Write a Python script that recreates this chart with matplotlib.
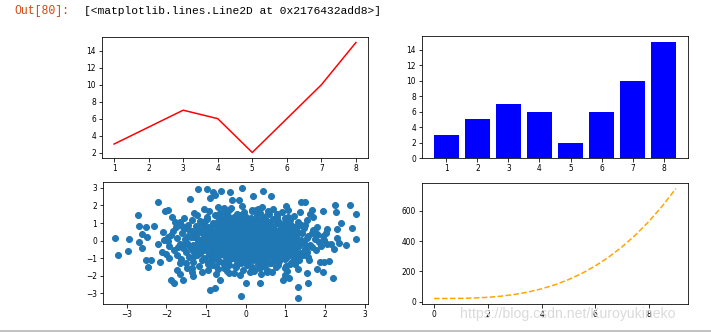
import matplotlib
matplotlib.use("Agg")
import matplotlib.pyplot as plt
from matplotlib.lines import Line2D

# line / bar data
x = [1, 2, 3, 4, 5, 6, 7, 8]
y = [3, 5, 7, 6, 2, 6, 10, 15]

# curve data (orange dashed)
curve_x = [0, 0.5, 1, 1.5, 2, 2.5, 3, 3.5, 4, 4.5, 5, 5.5, 6, 6.5, 7, 7.5, 8, 8.5, 9]
curve_y = [20, 20.1, 21, 23.4, 28, 35.6, 47, 62.9, 84, 111.1, 145, 186.4, 236,
           294.6, 363, 441.9, 532, 634.1, 749]

# scatter cloud: outer points first, then the dense middle
scatter_x = [
    -3.29, -3.22, -2.93, -2.97, -2.70, -2.68, -2.62, -2.68, -2.62, -2.51,
    -2.49, -2.51, -2.38, -2.45, -2.32, -2.21, -2.20, -2.16, -2.11, -2.07,
    -2.03, -1.96, -2.01, -1.95, -1.92, -1.88, -1.80, -1.86, -1.78, -1.72,
    -1.65, -1.59, -1.65, -1.47, -1.36, -1.32, -1.40, -1.21, -0.98, -0.90,
    -0.83, -0.77, -0.62, -0.39, -0.35, -0.16, -0.08, 0.19, 0.43, 0.65,
    -0.91, -0.77, -0.12, -0.65, 0.00, 0.36, 1.33, 1.33, 0.95, 1.09,
    1.58, 1.54, 1.80, 1.95, 2.19, 2.11, 1.87, 1.98, 2.23, 2.04,
    2.14, 2.36, 2.54, 2.29, 2.02, 1.94, 2.06, 2.29, 2.40, 2.27,
    2.25, 2.63, 2.69, 2.78, 2.78, 1.94, 1.68, 1.40, 1.49, 1.70,
    1.79, 1.80, 1.62,
    # 0 .. 0.25
    -2.05, -1.74, -1.52, -1.38, -1.21, -1.12, -1.03, -0.95, -0.88, -0.81,
    -0.74, -0.69, -0.62, -0.57, -0.51, -0.46, -0.40, -0.35, -0.30, -0.26,
    -0.21, -0.16, -0.12, -0.07, -0.03, 0.02, 0.06, 0.11, 0.15, 0.19,
    0.24, 0.29, 0.33, 0.38, 0.43, 0.47, 0.52, 0.58, 0.63, 0.69,
    0.74, 0.80, 0.86, 0.93, 1.00, 1.08, 1.17, 1.27, 1.39, 1.55,
    1.76, 1.98, -0.98, -0.44, -0.09, 0.27, 0.55, 0.91, 1.22, -1.31,
    # -0.25 .. 0
    -1.95, -1.66, -1.47, -1.33, -1.19, -1.08, -0.99, -0.91, -0.84, -0.77,
    -0.71, -0.65, -0.59, -0.54, -0.48, -0.43, -0.38, -0.33, -0.28, -0.23,
    -0.18, -0.14, -0.10, -0.05, -0.01, 0.04, 0.08, 0.13, 0.17, 0.22,
    0.26, 0.31, 0.36, 0.41, 0.45, 0.50, 0.56, 0.61, 0.66, 0.72,
    0.78, 0.84, 0.90, 0.97, 1.04, 1.12, 1.21, 1.32, 1.45, 1.62,
    1.85, -1.56, -1.02, -0.62, -0.27, 0.01, 0.35, 0.68, 1.10, 1.48,
    # 0.25 .. 0.5
    -1.88, -1.61, -1.44, -1.29, -1.17, -1.06, -0.97, -0.89, -0.82, -0.75,
    -0.68, -0.63, -0.56, -0.50, -0.45, -0.39, -0.34, -0.29, -0.24, -0.19,
    -0.15, -0.11, -0.06, -0.02, 0.03, 0.07, 0.12, 0.16, 0.21, 0.25,
    0.30, 0.35, 0.39, 0.44, 0.49, 0.54, 0.60, 0.65, 0.71, 0.77,
    0.83, 0.89, 0.96, 1.03, 1.11, 1.19, 1.29, 1.41, 1.57, 1.80,
    -1.23, -0.72, -0.31, 0.09, 0.47, 0.81, 1.14, -0.52, 0.58, 1.67,
    # -0.5 .. -0.25
    -1.92, -1.58, -1.41, -1.26, -1.14, -1.04, -0.94, -0.86, -0.79, -0.72,
    -0.66, -0.60, -0.55, -0.49, -0.44, -0.37, -0.32, -0.27, -0.22, -0.17,
    -0.13, -0.08, -0.04, 0.00, 0.05, 0.10, 0.14, 0.18, 0.23, 0.28,
    0.32, 0.37, 0.42, 0.46, 0.51, 0.57, 0.62, 0.67, 0.73, 0.79,
    0.85, 0.92, 0.99, 1.06, 1.14, 1.24, 1.35, 1.49, 1.66, 1.90,
    -1.70, -1.09, -0.58, -0.20, 0.16, 0.53, 0.88, 1.18, 1.58, -0.90,
    # 0.5 .. 0.75
    -1.84, -1.55, -1.36, -1.20, -1.07, -0.96, -0.87, -0.78, -0.70, -0.63,
    -0.56, -0.49, -0.42, -0.36, -0.30, -0.24, -0.18, -0.12, -0.07, -0.01,
    0.05, 0.10, 0.16, 0.22, 0.28, 0.34, 0.40, 0.46, 0.52, 0.59,
    0.66, 0.73, 0.81, 0.89, 0.98, 1.08, 1.19, 1.32, 1.48, 1.70,
    -1.45, -1.00, -0.66, -0.33, 0.02, 0.37, 0.70, 1.02, 1.28, -0.14,
    # -0.75 .. -0.5
    -1.80, -1.50, -1.32, -1.16, -1.04, -0.93, -0.84, -0.76, -0.68, -0.61,
    -0.54, -0.47, -0.41, -0.34, -0.28, -0.22, -0.16, -0.10, -0.05, 0.01,
    0.07, 0.12, 0.18, 0.24, 0.30, 0.36, 0.42, 0.48, 0.55, 0.62,
    0.69, 0.76, 0.84, 0.93, 1.02, 1.12, 1.24, 1.38, 1.55, 1.78,
    -1.25, -0.89, -0.58, -0.25, 0.10, 0.44, 0.79, 1.08, 1.46, -0.03,
    # 0.75 .. 1
    -1.76, -1.46, -1.25, -1.09, -0.95, -0.83, -0.72, -0.62, -0.53, -0.44,
    -0.36, -0.28, -0.20, -0.13, -0.05, 0.03, 0.10, 0.18, 0.26, 0.34,
    0.42, 0.50, 0.59, 0.68, 0.78, 0.88, 1.00, 1.13, 1.29, 1.50,
    -1.60, -1.02, -0.67, -0.40, -0.08, 0.22, 0.55, 0.83, 1.18, 1.40,
    # -1 .. -0.75
    -1.72, -1.42, -1.22, -1.06, -0.92, -0.80, -0.69, -0.59, -0.50, -0.41,
    -0.33, -0.25, -0.17, -0.10, -0.02, 0.06, 0.13, 0.21, 0.29, 0.37,
    0.45, 0.54, 0.63, 0.72, 0.82, 0.93, 1.05, 1.18, 1.34, 1.56,
    -1.30, -0.85, -0.55, -0.21, 0.09, 0.40, 0.68, 0.98, 1.25, 1.45,
    # 1 .. 1.25
    -1.66, -1.35, -1.14, -0.97, -0.82, -0.69, -0.57, -0.46, -0.35, -0.25,
    -0.15, -0.05, 0.05, 0.15, 0.25, 0.35, 0.46, 0.57, 0.69, 0.82,
    0.97, 1.13, 1.32, 1.55, -1.02, -0.60, -0.20, 0.20, 0.62, 1.05,
    # -1.25 .. -1
    -1.62, -1.32, -1.11, -0.94, -0.79, -0.66, -0.54, -0.43, -0.32, -0.22,
    -0.12, -0.02, 0.08, 0.18, 0.28, 0.38, 0.49, 0.60, 0.72, 0.85,
    1.00, 1.16, 1.35, 1.60, -0.90, -0.48, -0.08, 0.33, 0.75, 1.22,
    # 1.25 .. 1.5
    -1.55, -1.22, -0.98, -0.78, -0.60, -0.44, -0.29, -0.14, 0.00, 0.14,
    0.29, 0.44, 0.60, 0.78, 0.98, 1.22, -0.70, -0.05, 0.52, 1.08,
    # -1.5 .. -1.25
    -1.50, -1.18, -0.95, -0.75, -0.57, -0.41, -0.26, -0.11, 0.03, 0.17,
    0.32, 0.47, 0.63, 0.81, 1.01, 1.25, -0.85, -0.20, 0.40, 1.12,
    # 1.5 .. 1.75
    -1.30, -0.92, -0.65, -0.42, -0.22, -0.03, 0.16, 0.36, 0.57, 0.80,
    1.08, 1.38, -0.50, 0.25, 0.92,
    # -1.75 .. -1.5
    -1.35, -0.96, -0.69, -0.46, -0.25, -0.06, 0.13, 0.33, 0.54, 0.77,
    1.04, 1.33, -0.55, 0.20, 0.98,
    # 1.75 .. 2
    -1.05, -0.70, -0.38, -0.10, 0.15, 0.42, 0.70, 1.02, -0.55, 0.30,
    # -2 .. -1.75
    -1.10, -0.74, -0.42, -0.15, 0.12, 0.38, 0.66, 0.98, -0.30, 0.55,
]
scatter_y = [
    0.15, -0.82, 0.10, -0.61, 1.47, 0.82, 0.38, -0.06, -0.42, 0.76,
    0.23, -1.09, -1.09, -1.49, 0.86, 2.20, -0.19, -1.24, -0.67, 0.48,
    1.66, 1.76, -0.76, 0.19, -0.96, -2.24, -2.43, 1.34, 1.05, -1.66,
    -1.91, -2.24, -1.30, -1.53, -1.78, -2.01, 2.39, 2.93, 2.91, 2.45,
    2.74, 2.58, 2.83, 2.77, 2.33, 2.29, 3.02, 2.52, 2.81, 2.52,
    -2.83, -2.68, -3.15, -2.24, -2.43, -2.43, -2.64, -3.29, -2.26, -2.14,
    -2.39, -1.82, -1.63, -1.78, -2.10, -1.15, -1.19, -1.24, -0.48, -0.19,
    -0.19, -0.15, -0.23, 0.15, 0.42, 0.29, 0.67, 0.67, 0.99, 1.63,
    2.05, 2.01, 0.71, 1.49, 0.10, 1.68, 1.72, 2.20, 2.20, 1.34,
    0.76, 0.38, 1.53,
    # 0 .. 0.25
    0.03, 0.17, 0.09, 0.22, 0.12, 0.01, 0.19, 0.07, 0.24, 0.14,
    0.05, 0.21, 0.11, 0.02, 0.16, 0.23, 0.08, 0.13, 0.20, 0.04,
    0.18, 0.10, 0.25, 0.06, 0.15, 0.21, 0.01, 0.12, 0.19, 0.08,
    0.23, 0.04, 0.14, 0.18, 0.02, 0.11, 0.24, 0.07, 0.16, 0.20,
    0.09, 0.03, 0.22, 0.13, 0.06, 0.17, 0.10, 0.24, 0.01, 0.15,
    0.12, 0.05, 0.20, 0.08, 0.23, 0.14, 0.02, 0.18, 0.11, 0.21,
    # -0.25 .. 0
    -0.04, -0.19, -0.11, -0.23, -0.07, -0.15, -0.02, -0.21, -0.09, -0.17,
    -0.24, -0.06, -0.13, -0.20, -0.03, -0.16, -0.10, -0.22, -0.01, -0.14,
    -0.08, -0.25, -0.12, -0.05, -0.18, -0.02, -0.21, -0.09, -0.15, -0.24,
    -0.06, -0.11, -0.19, -0.03, -0.23, -0.13, -0.08, -0.17, -0.01, -0.20,
    -0.14, -0.05, -0.22, -0.10, -0.16, -0.03, -0.19, -0.07, -0.12, -0.24,
    -0.09, -0.18, -0.02, -0.21, -0.13, -0.06, -0.23, -0.15, -0.04, -0.11,
    # 0.25 .. 0.5
    0.31, 0.44, 0.27, 0.38, 0.49, 0.33, 0.41, 0.26, 0.46, 0.35,
    0.29, 0.42, 0.37, 0.48, 0.30, 0.40, 0.45, 0.28, 0.36, 0.47,
    0.32, 0.43, 0.26, 0.39, 0.50, 0.34, 0.28, 0.45, 0.37, 0.41,
    0.48, 0.29, 0.36, 0.43, 0.31, 0.47, 0.39, 0.27, 0.44, 0.33,
    0.40, 0.26, 0.46, 0.35, 0.30, 0.49, 0.38, 0.42, 0.28, 0.34,
    0.45, 0.32, 0.48, 0.27, 0.39, 0.43, 0.36, 0.30, 0.47, 0.41,
    # -0.5 .. -0.25
    -0.28, -0.41, -0.35, -0.47, -0.30, -0.44, -0.26, -0.38, -0.49, -0.33,
    -0.42, -0.27, -0.36, -0.46, -0.31, -0.40, -0.48, -0.29, -0.37, -0.43,
    -0.26, -0.34, -0.45, -0.39, -0.28, -0.47, -0.32, -0.41, -0.36, -0.50,
    -0.30, -0.44, -0.27, -0.38, -0.46, -0.33, -0.42, -0.29, -0.48, -0.35,
    -0.40, -0.31, -0.45, -0.26, -0.37, -0.43, -0.30, -0.49, -0.34, -0.28,
    -0.39, -0.46, -0.32, -0.44, -0.27, -0.41, -0.35, -0.48, -0.29, -0.38,
    # 0.5 .. 0.75
    0.56, 0.69, 0.52, 0.63, 0.74, 0.58, 0.67, 0.51, 0.72, 0.61,
    0.54, 0.70, 0.65, 0.57, 0.73, 0.60, 0.53, 0.68, 0.75, 0.62,
    0.55, 0.71, 0.59, 0.66, 0.52, 0.74, 0.64, 0.57, 0.69, 0.53,
    0.72, 0.61, 0.56, 0.67, 0.74, 0.58, 0.63, 0.51, 0.70, 0.60,
    0.65, 0.55, 0.73, 0.59, 0.68, 0.52, 0.64, 0.71, 0.57, 0.62,
    # -0.75 .. -0.5
    -0.53, -0.66, -0.58, -0.72, -0.55, -0.69, -0.61, -0.74, -0.52, -0.64,
    -0.70, -0.57, -0.67, -0.51, -0.63, -0.73, -0.56, -0.68, -0.60, -0.75,
    -0.54, -0.65, -0.71, -0.59, -0.52, -0.67, -0.62, -0.74, -0.57, -0.69,
    -0.55, -0.64, -0.72, -0.60, -0.53, -0.68, -0.58, -0.73, -0.63, -0.51,
    -0.66, -0.71, -0.56, -0.61, -0.74, -0.54, -0.69, -0.59, -0.64, -0.70,
    # 0.75 .. 1
    0.78, 0.91, 0.83, 0.97, 0.80, 0.94, 0.86, 0.99, 0.77, 0.89,
    0.95, 0.82, 0.92, 0.76, 0.88, 0.98, 0.81, 0.93, 0.85, 0.79,
    0.96, 0.84, 0.90, 0.77, 0.99, 0.87, 0.80, 0.94, 0.83, 0.91,
    0.86, 0.78, 0.97, 0.82, 0.93, 0.88, 0.76, 0.95, 0.84, 0.90,
    # -1 .. -0.75
    -0.79, -0.92, -0.84, -0.98, -0.81, -0.95, -0.87, -0.77, -0.90, -0.99,
    -0.83, -0.94, -0.78, -0.88, -0.96, -0.82, -0.91, -0.76, -0.86, -0.97,
    -0.80, -0.93, -0.85, -0.99, -0.79, -0.89, -0.95, -0.83, -0.77, -0.92,
    -0.87, -0.97, -0.81, -0.90, -0.78, -0.94, -0.84, -0.98, -0.88, -0.82,
    # 1 .. 1.25
    1.04, 1.17, 1.09, 1.23, 1.02, 1.14, 1.21, 1.07, 1.19, 1.11,
    1.25, 1.05, 1.16, 1.01, 1.22, 1.10, 1.18, 1.06, 1.24, 1.13,
    1.03, 1.20, 1.08, 1.15, 1.12, 1.24, 1.02, 1.19, 1.07, 1.16,
    # -1.25 .. -1
    -1.06, -1.19, -1.11, -1.24, -1.03, -1.16, -1.21, -1.08, -1.01, -1.14,
    -1.23, -1.05, -1.18, -1.10, -1.02, -1.20, -1.13, -1.25, -1.07, -1.17,
    -1.04, -1.22, -1.12, -1.09, -1.19, -1.03, -1.15, -1.24, -1.08, -1.13,
    # 1.25 .. 1.5
    1.29, 1.43, 1.34, 1.48, 1.27, 1.40, 1.32, 1.46, 1.37, 1.26,
    1.44, 1.31, 1.49, 1.36, 1.28, 1.41, 1.46, 1.30, 1.38, 1.33,
    # -1.5 .. -1.25
    -1.28, -1.42, -1.33, -1.47, -1.30, -1.39, -1.45, -1.27, -1.36, -1.49,
    -1.31, -1.44, -1.29, -1.38, -1.46, -1.34, -1.40, -1.26, -1.48, -1.35,
    # 1.5 .. 1.75
    1.55, 1.68, 1.59, 1.72, 1.53, 1.64, 1.70, 1.57, 1.66, 1.52,
    1.74, 1.61, 1.56, 1.73, 1.63,
    # -1.75 .. -1.5
    -1.54, -1.67, -1.60, -1.73, -1.52, -1.65, -1.71, -1.57, -1.68, -1.51,
    -1.74, -1.62, -1.58, -1.70, -1.55,
    # 1.75 .. 2
    1.79, 1.93, 1.84, 1.98, 1.77, 1.90, 1.82, 1.96, 1.87, 1.80,
    # -2 .. -1.75
    -1.78, -1.92, -1.83, -1.97, -1.80, -1.89, -1.76, -1.95, -1.86, -1.81,
]

plt.rcParams["xtick.labelsize"] = 7.5
plt.rcParams["ytick.labelsize"] = 7.5
plt.rcParams["xtick.major.pad"] = 2.5
plt.rcParams["ytick.major.pad"] = 2.5

W, H = 711, 333
fig = plt.figure(figsize=(W / 72, H / 72), dpi=72)

def box(l, t, r, b):
    # pixel box -> figure fraction
    return [l / W, 1 - b / H, (r - l) / W, (b - t) / H]

# notebook output line above the figure
fig.text(14 / W, 1 - 11 / H, "Out[80]:", color="#D84315", fontsize=11.5,
         family="Liberation Mono", va="center")
fig.text(84 / W, 1 - 11 / H, "[<matplotlib.lines.Line2D at 0x2176432add8>]",
         color="black", fontsize=11.3, family="Liberation Mono", va="center")

ax1 = fig.add_axes(box(102, 37, 368, 158))
ax1.plot(x, y, color="red")

ax2 = fig.add_axes(box(422, 36, 688, 158))
ax2.bar(x, y, color="blue")

ax3 = fig.add_axes(box(103, 182, 368, 304))
ax3.scatter(scatter_x, scatter_y)

ax4 = fig.add_axes(box(422, 183, 688, 304))
ax4.plot(curve_x, curve_y, color="orange", linestyle="--")

# watermark and separator line at the bottom
fig.text(460 / W, 1 - 314 / H, "https://blog.csdn.net/Kuroyukineko",
         color="#DADADA", fontsize=14, family="Liberation Sans", va="center")
fig.add_artist(Line2D([0, 1], [1 - 330.5 / H, 1 - 330.5 / H], color="#B0B0B0", lw=1.5))

fig.savefig("out.png", dpi=72)
